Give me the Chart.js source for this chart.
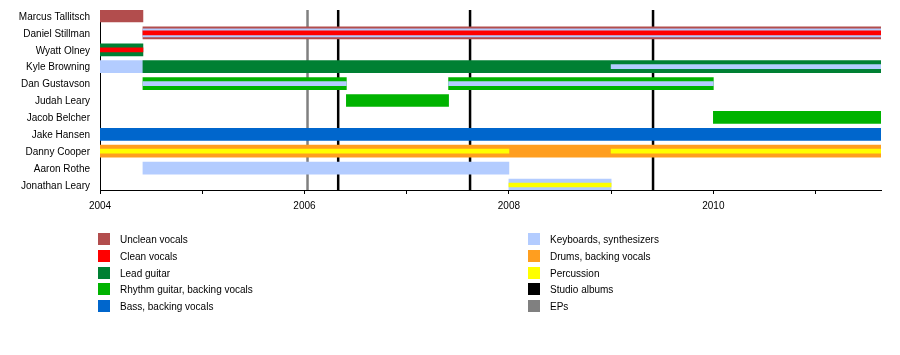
<!DOCTYPE html>
<html>
<head>
<meta charset="utf-8">
<script src="https://cdn.jsdelivr.net/npm/chart.js@4/dist/chart.umd.min.js"></script>
<style>
html,body{margin:0;padding:0;background:#fff;}
#wrap{position:relative;width:900px;height:355px;overflow:hidden;}
canvas{position:absolute;left:0;top:0;}
.lg{position:absolute;font:10px "Liberation Sans", Arial, sans-serif;color:#000;white-space:nowrap;line-height:12px;}
.sw{position:absolute;width:12px;height:12px;}
</style>
</head>
<body>
<div id="wrap"><canvas id="c" width="900" height="355"></canvas></div>
<script>
// ---------- DATA ----------
const members = ["Marcus Tallitsch","Daniel Stillman","Wyatt Olney","Kyle Browning","Dan Gustavson","Judah Leary","Jacob Belcher","Jake Hansen","Danny Cooper","Aaron Rothe","Jonathan Leary"];
const START = 2004.0;
const END = 2011.64;
const yearTicks = [2004,2005,2006,2007,2008,2009,2010,2011];
const yearLabels = ["2004","","2006","","2008","","2010",""];

// main (full-width) roles: [member, from, to]
const uncleanVocals = [["Marcus Tallitsch",2004.0,2004.42],["Daniel Stillman",2004.42,END]];
const leadGuitar = [["Wyatt Olney",2004.0,2004.42],["Kyle Browning",2004.42,END]];
const rhythmGuitar = [["Dan Gustavson",2004.42,2006.41],["Dan Gustavson",2007.41,2010.0],["Judah Leary",2006.41,2007.41],["Jacob Belcher",2010.0,END]];
const bass = [["Jake Hansen",2004.0,END]];
const keyboards = [["Kyle Browning",2004.0,2004.42],["Aaron Rothe",2004.42,2008.0],["Jonathan Leary",2008.0,2009.0]];
const drums = [["Danny Cooper",2004.0,END]];
// secondary roles (narrower bars)
const keyboardsSecond = [["Daniel Stillman",2004.42,END]];
const keyboardsThird = [["Kyle Browning",2009.0,END],["Dan Gustavson",2004.42,2006.41],["Dan Gustavson",2007.41,2010.0]];
const cleanVocals = [["Daniel Stillman",2004.42,END],["Wyatt Olney",2004.0,2004.42]];
const percussion = [["Danny Cooper",2004.0,2008.0],["Danny Cooper",2009.0,END],["Jonathan Leary",2008.0,2009.0]];
// event lines
const studioAlbums = [2006.33,2007.62,2009.41];
const eps = [2006.03];

// legend
const legendLabels = ["Unclean vocals","Clean vocals","Lead guitar","Rhythm guitar, backing vocals","Bass, backing vocals","Keyboards, synthesizers","Drums, backing vocals","Percussion","Studio albums","EPs"];
const legendColors = ["#B24D4D","#FF0000","#008033","#00B300","#0066CC","#B3CCFF","#FF9E1F","#FFFF00","#000000","#808080"];

// ---------- STYLE ----------
const C = {
  unclean:"#B24D4D", clean:"#FF0000", lead:"#008033", rhythm:"#00B300", bass:"#0066CC",
  keys:"#B3CCFF", drums:"#FF9E1F", perc:"#FFFF00", album:"#000000", ep:"#808080"
};
const ROW_PX = 16.9, AREA_PX = 180, HALF_BAR = 6;
const yMin = -HALF_BAR / ROW_PX;
const yMax = yMin + AREA_PX / ROW_PX;

const toPts = arr => arr.map(r => ({x:[r[1], r[2]], y: members.indexOf(r[0])}));
function ds(label, arr, color, thick, order){
  return {label, data: toPts(arr), backgroundColor: color, barThickness: thick,
          grouped:false, order, borderWidth:0, clip:0};
}
const datasets = [
  ds("Unclean vocals", uncleanVocals, C.unclean, 12, 3),
  ds("Lead guitar", leadGuitar, C.lead, 12, 3),
  ds("Rhythm guitar, backing vocals", rhythmGuitar, C.rhythm, 12, 3),
  ds("Bass, backing vocals", bass, C.bass, 12, 3),
  ds("Keyboards, synthesizers", keyboards, C.keys, 12, 3),
  ds("Drums, backing vocals", drums, C.drums, 12, 3),
  ds("Keyboards (2)", keyboardsSecond, C.keys, 8, 2),
  ds("Keyboards (3)", keyboardsThird, C.keys, 4, 1),
  ds("Clean vocals", cleanVocals, C.clean, 4, 1),
  ds("Percussion", percussion, C.perc, 4, 1)
];

const linesPlugin = {
  id:'eventLines',
  beforeDatasetsDraw(chart){
    const {ctx, chartArea:{top,bottom}, scales:{x}} = chart;
    ctx.save();
    ctx.lineWidth = 2.5;
    const draw = (vals, col) => vals.forEach(v => {
      const px = x.getPixelForValue(v);
      ctx.strokeStyle = col;
      ctx.beginPath(); ctx.moveTo(px, top); ctx.lineTo(px, bottom); ctx.stroke();
    });
    draw(eps, C.ep);
    draw(studioAlbums, C.album);
    ctx.restore();
  }
};

Chart.defaults.font.family = '"Liberation Sans", Arial, sans-serif';
Chart.defaults.font.size = 10;
Chart.defaults.color = '#000';

new Chart(document.getElementById('c'), {
  type:'bar',
  data:{datasets},
  options:{
    indexAxis:'y',
    responsive:false,
    animation:false,
    devicePixelRatio:1,
    layout:{padding:{top:10,right:19,bottom:140,left:0}},
    plugins:{legend:{display:false}, tooltip:{enabled:false}},
    scales:{
      x:{
        type:'linear', min:START, max:END, bounds:'data', offset:false,
        grid:{display:true, drawOnChartArea:false, drawTicks:true, tickLength:4, color:'#000', lineWidth:1, offset:false},
        border:{display:true, color:'#000', width:1},
        ticks:{autoSkip:false, maxRotation:0, minRotation:0, padding:6, color:'#000',
          callback:(v)=> { const i = yearTicks.indexOf(v); return i >= 0 ? yearLabels[i] : ''; }},
        afterBuildTicks:(s)=>{ s.ticks = yearTicks.map(v => ({value:v})); },
        afterFit:(s)=>{ s.height = 25; s.paddingLeft = 0; s.paddingRight = 0; }
      },
      y:{
        type:'linear', reverse:true, min:yMin, max:yMax, bounds:'data', offset:false,
        grid:{display:false, drawTicks:false, offset:false},
        border:{display:true, color:'#000', width:1},
        ticks:{autoSkip:false, padding:10, color:'#000', labelOffset:1,
          callback:(v)=> (Number.isInteger(v) && members[v]) ? members[v] : ''},
        afterBuildTicks:(s)=>{ s.ticks = members.map((m, i) => ({value:i})); },
        afterFit:(s)=>{ s.width = 100; s.paddingTop = 0; s.paddingBottom = 0; }
      }
    }
  },
  plugins:[linesPlugin]
});

// HTML legend
const wrap = document.getElementById('wrap');
legendLabels.forEach((lab, i) => {
  const col = Math.floor(i / 5), row = i % 5;
  const sx = col === 0 ? 98 : 528;
  const tx = col === 0 ? 120 : 550;
  const sy = 233 + row * 16.75;
  const sw = document.createElement('div');
  sw.className = 'sw'; sw.style.left = sx + 'px'; sw.style.top = Math.round(sy) + 'px';
  sw.style.background = legendColors[i];
  wrap.appendChild(sw);
  const t = document.createElement('div');
  t.className = 'lg'; t.style.left = tx + 'px'; t.style.top = (Math.round(sy) + 1) + 'px';
  t.textContent = lab;
  wrap.appendChild(t);
});
</script>
</body>
</html>
